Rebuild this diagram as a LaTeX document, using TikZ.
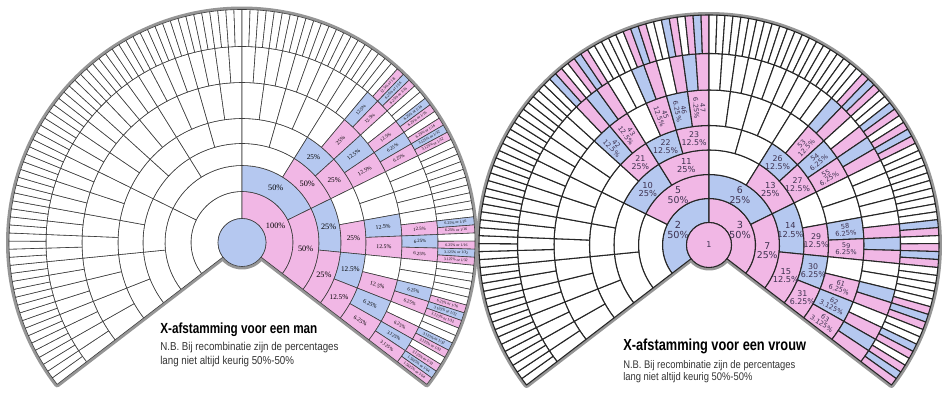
\documentclass[tikz,border=0pt]{standalone}
\usepackage{fontspec}
\setmainfont{Liberation Serif}
\newfontfamily\titlefont[FakeStretch=0.8]{Liberation Sans}
\newfontfamily\notefont[FakeStretch=0.85]{Liberation Sans}
\newfontfamily\cellsans{DejaVu Sans}
\usetikzlibrary{positioning}

\definecolor{xblue}{RGB}{181,200,240}
\definecolor{xpink}{RGB}{241,183,229}
\definecolor{xrim}{RGB}{150,150,150}
\definecolor{xline}{RGB}{60,60,60}
\definecolor{xink}{RGB}{62,50,80}

% fan layout: first angle, sweep and number of rings
\def\fanstart{217.5}
\def\fanspan{255}
\def\fanrings{7}
\newif\iflabelpass

\newcommand\pct[1]{\ifcase#1 100\or 50\or 25\or 12.5\or 6.25\or 3.125\or 1.5625\fi}
\newcommand\den[1]{\ifcase#1 1\or 2\or 4\or 8\or 16\or 32\or 64\fi}

\newcommand\manfont[1]{\ifcase#1\or\fontsize{6.2}{6.5}\or\fontsize{6.2}{6.5}\or\fontsize{6.2}{6.5}%
  \or\fontsize{5.4}{6}\or\fontsize{4.3}{5}\or\fontsize{3.6}{4}\or\fontsize{2.9}{3.2}\fi\selectfont}
\newcommand\vrouwfont[1]{\cellsans\ifcase#1\or\fontsize{7.3}{7.5}\or\fontsize{7}{7.2}\or\fontsize{6.2}{6.3}%
  \or\fontsize{5.9}{6}\or\fontsize{5}{5}\fi\selectfont}

% label of one cell: ring, index, share
\newcommand\manlabel[3]{%
  \pgfmathtruncatemacro\anc{2^#1+#2}%
  \ifnum#1<5 \def\rot{0}\else\let\rot\angM\fi
  \node[manpct, font=\manfont{#1}, rotate=\rot] (m-\anc) at (\angM:\radM)
    {\ifnum#1<7 \pct{#3}\%\else\pct{#3}\% or 1/\den{#3}\fi};}
\newcommand\vrouwlabel[3]{%
  \ifnum#1<6
    \pgfmathtruncatemacro\anc{2^#1+#2}%
    \ifnum#1<5 \def\rot{0}\else\pgfmathsetmacro\rot{\angM>90 ? \angM-180 : \angM}\fi
    \node[vrouwpct, font=\vrouwfont{#1}, rotate=\rot] (v-\anc) at (\angM:\radM) {\anc\\\pct{#3}\%};
  \fi}

% ring, index in ring, sex (0 man, 1 vrouw), share as power of 1/2 (-1 = none)
\newcommand\ancestor[4]{%
  \begingroup
  \pgfmathsetmacro\angA{\fanstart-\fanspan*(#2/2^#1)}%
  \pgfmathsetmacro\angB{\fanstart-\fanspan*((#2+1)/2^#1)}%
  \pgfmathsetmacro\angM{(\angA+\angB)/2}%
  \pgfmathsetmacro\radA{\fanradii[#1-1]}%
  \pgfmathsetmacro\radB{\fanradii[#1]}%
  \pgfmathsetmacro\radM{(\radA+\radB)/2}%
  \ifnum#4<0 \def\cellfill{white}\else\ifnum#3=0 \def\cellfill{xblue}\else\def\cellfill{xpink}\fi\fi
  \iflabelpass
    \ifnum#4<0 \else\celllabel{#1}{#2}{#4}\fi
  \else
    \filldraw[cell, fill=\cellfill] (\angA:\radA) arc[start angle=\angA, end angle=\angB, radius=\radA]
      -- (\angB:\radB) arc[start angle=\angB, end angle=\angA, radius=\radB] -- cycle;
  \fi
  \ifnum#1<\fanrings\relax
    \ifnum#4<0 \def\fshare{-1}\def\mshare{-1}%
    \else\ifnum#3=0 \def\fshare{-1}\edef\mshare{#4}%
    \else\edef\fshare{\the\numexpr#4+1}\edef\mshare{\the\numexpr#4+1}\fi\fi
    \edef\next{\noexpand\ancestor{\the\numexpr#1+1}{\the\numexpr2*#2}{0}{\fshare}%
      \noexpand\ancestor{\the\numexpr#1+1}{\the\numexpr2*#2+1}{1}{\mshare}}%
    \next
  \fi
  \endgroup}

% whole fan: father share, mother share
\newcommand\fan[2]{%
  \pgfmathsetmacro\radO{\fanradii[0]}%
  \pgfmathsetmacro\radZ{\fanradii[\fanrings]}%
  \draw[rim] (\fanstart:\radO) -- (\fanstart:\radZ)
    arc[start angle=\fanstart, end angle=\fanstart-\fanspan, radius=\radZ]
    -- (\fanstart-\fanspan:\radO)
    arc[start angle=\fanstart-\fanspan, end angle=\fanstart-360, radius=\radO] -- cycle;
  \labelpassfalse
  \ancestor{1}{0}{0}{#1}\ancestor{1}{1}{1}{#2}%
  \labelpasstrue
  \ancestor{1}{0}{0}{#1}\ancestor{1}{1}{1}{#2}%
}

\begin{document}
\begin{tikzpicture}[x=0.75pt,y=0.75pt,
    cell/.style={draw=xline,line width=0.45pt,line join=round},
    rim/.style={draw=xrim,line width=4.5pt,line join=round},
    manpct/.style={inner sep=0pt,text=black},
    vrouwpct/.style={inner sep=0pt,align=center,text=xink},
    title/.style={inner sep=0pt,anchor=base west},
    note/.style={inner sep=0pt,align=left,text=black!80}]

  \fill[white] (0,0) rectangle (946,393);
  \useasboundingbox (0,0) rectangle (946,393);

  % man
  \begin{scope}[shift={(242,150.5)}]
    \def\fanradii{{24,51,77,99,124,160,196,233}}
    \let\celllabel\manlabel
    \fan{-1}{0}
    \filldraw[cell, fill=xblue] (0,0) circle[radius=24];
  \end{scope}

  % vrouw
  \begin{scope}[shift={(709,148)}, cell/.append style={draw=black!85,line width=0.8pt}]
    \def\fanradii{{22.5,46.5,70.5,95,119.5,155,191.5,230}}
    \let\celllabel\vrouwlabel
    \fan{1}{1}
    \filldraw[cell, fill=xpink] (0,0) circle[radius=22.5];
    \node[vrouwpct, font=\cellsans\fontsize{6}{6}\selectfont] (v-1) at (0,0) {1};
  \end{scope}

  \node[title, font=\titlefont\bfseries\fontsize{11}{13}\selectfont] (titleM) at (160,60)
    {X-afstamming voor een man};
  \node[note, below=4.5pt of titleM.south west, anchor=north west,
    font=\notefont\fontsize{8.6}{10.2}\selectfont] (noteM)
    {N.B. Bij recombinatie zijn de percentages\\lang niet altijd keurig 50\%-50\%};

  \node[title, font=\titlefont\bfseries\fontsize{12}{14}\selectfont] (titleV) at (623,43)
    {X-afstamming voor een vrouw};
  \node[note, below=5pt of titleV.south west, anchor=north west,
    font=\notefont\fontsize{8.3}{9.2}\selectfont] (noteV)
    {N.B. Bij recombinatie zijn de percentages\\lang niet altijd keurig 50\%-50\%};
\end{tikzpicture}
\end{document}
